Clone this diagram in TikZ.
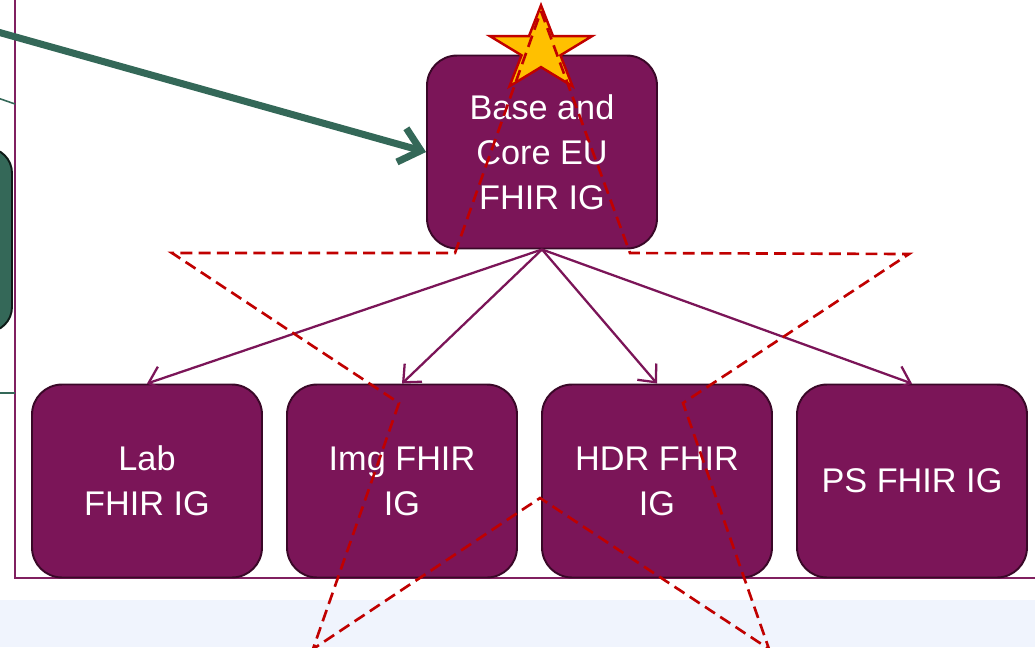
\documentclass[tikz,border=0pt]{standalone}
\usepackage{fontspec}
\setmainfont{Liberation Sans}
\usetikzlibrary{arrows.meta}
\definecolor{igplum}{RGB}{123,21,88}
\definecolor{igedge}{RGB}{58,8,40}
\definecolor{frameplum}{RGB}{128,32,96}
\definecolor{eugreen}{RGB}{52,104,88}
\definecolor{starred}{RGB}{192,0,0}
\definecolor{staryellow}{RGB}{255,192,0}
\definecolor{bandblue}{RGB}{240,244,253}

\begin{document}
\begin{tikzpicture}[x=0.02cm,y=-0.02cm]
        \useasboundingbox (0,0) rectangle (1035,647);
        \clip (0,0) rectangle (1035,647);

        \fill[bandblue] (0,600) rectangle (1035,647);
        \draw[frameplum,line width=1.2pt] (15,-10) -- (15,578) -- (1045,578);

        \filldraw[fill=eugreen,draw=black!75!eugreen,line width=1.1pt,rounded corners=0.5cm] (-60,148) rectangle (12,332);
        \draw[eugreen,line width=0.9pt] (-5,97) -- (15,104);
        \draw[eugreen,line width=0.9pt] (-5,393) -- (15,393);

        \begin{scope}[every node/.style={rectangle,rounded corners=0.6cm,draw=igedge,line width=1.1pt,fill=igplum,text=white,align=center,minimum width=4.6cm,minimum height=3.86cm,font=\fontsize{19.5}{25.5}\selectfont}]
            \node (base) at (542,152) {Base and\\Core EU\\FHIR IG};
            \node (lab) at (147,481) {Lab\\FHIR IG};
            \node (img) at (402,481) {Img FHIR\\IG};
            \node (hdr) at (657,481) {HDR FHIR\\IG};
            \node (ps) at (912,481) {PS FHIR IG};
        \end{scope}

        \coordinate (src) at (-20,27);
        \draw[eugreen,line width=4pt,-{Straight Barb[length=4mm,width=7mm]}] (src) -- (base.west);

        \begin{scope}[every edge/.style={draw=igplum,line width=1.3pt}]
            \path [-{Straight Barb[length=2.8mm,width=5mm]}] (base.south) edge (lab.north);
            \path [-{Straight Barb[length=2.8mm,width=5mm]}] (base.south) edge (img.north);
            \path [-{Straight Barb[length=2.8mm,width=5mm]}] (base.south) edge (hdr.north);
            \path [-{Straight Barb[length=2.8mm,width=5mm]}] (base.south) edge (ps.north);
        \end{scope}

        \begin{scope}[shift={(541,50)},xscale=53.6,yscale=-44.8]
            \filldraw[fill=staryellow,draw=starred,line width=1.4pt] (90:1) \foreach \i in {0,...,4}{ -- (90+72*\i:1) -- (126+72*\i:0.382)} -- cycle;
        \end{scope}

        \draw[starred,line width=1.5pt,dash pattern=on 6.8pt off 3.6pt] (541,11) -- (630,253) -- (909,254) -- (683,403) -- (769,649) -- (540,498) -- (313,649) -- (399,403) -- (172,253) -- (455,253) -- cycle;

    \end{tikzpicture}
\end{document}
